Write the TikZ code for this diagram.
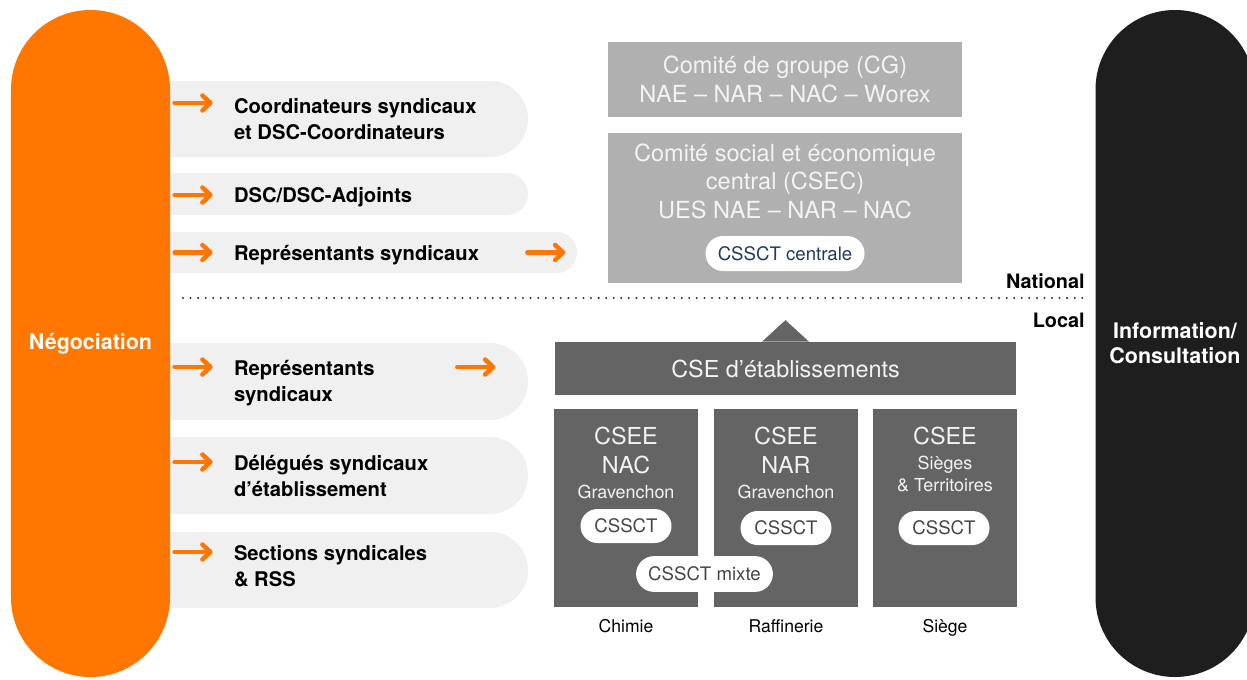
\documentclass[tikz,border=0pt]{standalone}
\usepackage{fontspec}
\setmainfont{TeX Gyre Heros}
\usetikzlibrary{shapes,arrows,positioning,calc,arrows.meta}
\definecolor{negorange}{RGB}{255,118,0}
\definecolor{rowgray}{RGB}{240,240,240}
\definecolor{natgray}{RGB}{176,176,176}
\definecolor{locgray}{RGB}{100,100,100}
\definecolor{infoblack}{RGB}{30,30,30}
\definecolor{boxtext}{RGB}{243,243,243}
\definecolor{pilltext}{RGB}{70,70,70}
\definecolor{navy}{RGB}{31,58,95}

\begin{document}
\begin{tikzpicture}[x=0.2mm, y=-0.2mm,
    pillar/.style={rectangle, rounded corners=15.9mm, minimum width=31.8mm, minimum height=133.4mm, inner sep=0pt, text=white, align=center, font=\fontsize{12.2}{14.2}\selectfont\bfseries},
    band/.style={rounded rectangle, rounded rectangle left arc=none, fill=rowgray, inner sep=0pt},
    bandtext/.style={anchor=west, inner sep=0pt, align=left, font=\fontsize{11.5}{14.8}\selectfont\bfseries},
    bullet/.style={-{Straight Barb[length=4.5pt, width=8.5pt, round]}, line width=2.6pt, negorange, line cap=round},
    natbox/.style={rectangle, fill=natgray, minimum width=70.8mm, inner sep=0pt, text=boxtext, align=center, font=\fontsize{13.4}{16.2}\selectfont},
    locbox/.style={rectangle, fill=locgray, inner sep=0pt},
    loctitle/.style={inner sep=0pt, text=boxtext, align=center, font=\fontsize{13.3}{16.5}\selectfont},
    locsub/.style={inner sep=0pt, text=boxtext, align=center, font=\fontsize{10.2}{12.5}\selectfont},
    cssct/.style={rounded rectangle, fill=white, minimum width=18.2mm, minimum height=6.8mm, inner sep=0pt, text=pilltext, font=\fontsize{10.6}{12}\selectfont},
    site/.style={anchor=base, inner sep=0pt, font=\fontsize{10}{12}\selectfont},
    level/.style={anchor=east, inner sep=0pt, font=\fontsize{11.3}{13}\selectfont\bfseries},
    divider/.style={navy, line width=1.3pt, dash pattern=on 0pt off 4.3pt, line cap=round}
]
\clip (0,0) rectangle (1247,679);
\fill[white] (0,0) rectangle (1247,679);

% Bands of the bargaining side
\node[band, minimum width=75.6mm, minimum height=15.2mm] (r1) at (339,119) {};
\node[band, minimum width=75.6mm, minimum height=8.4mm] (r2) at (339,194) {};
\node[band, minimum width=85.4mm, minimum height=8.2mm] (r3) at (363.5,252.5) {};
\node[band, minimum width=75.6mm, minimum height=15.4mm] (r4) at (339,381.5) {};
\node[band, minimum width=75.6mm, minimum height=15.4mm] (r5) at (339,475.5) {};
\node[band, minimum width=75.6mm, minimum height=15.2mm] (r6) at (339,570) {};

\node[bandtext, right=16.8mm of r1.west] (t1) {Coordinateurs syndicaux\\et DSC-Coordinateurs};
\node[bandtext, right=16.8mm of r2.west, yshift=-0.7mm] (t2) {DSC/DSC-Adjoints};
\node[bandtext, right=16.8mm of r3.west, yshift=-0.6mm] (t3) {Représentants syndicaux};
\node[bandtext, right=16.8mm of r4.west, yshift=-0.3mm] (t4) {Représentants\\syndicaux};
\node[bandtext, right=16.8mm of r5.west] (t5) {Délégués syndicaux\\d’établissement};
\node[bandtext, right=16.8mm of r6.west, yshift=0.7mm] (t6) {Sections syndicales\\\& RSS};

% Orange arrows (first text line)
\foreach \i/\dy in {1/3.2, 2/-0.2, 3/0, 4/2.9, 5/2.7, 6/3.6}
    \draw[bullet] ([xshift=5mm, yshift=\dy mm]r\i.west) -- ++(7.6mm,0);
\draw[bullet] ([xshift=-10mm]r3.east) -- ++(7.6mm,0);
\draw[bullet] ([xshift=-14.2mm, yshift=2.9mm]r4.east) -- ++(7.6mm,0);

% Side pillars
\node[pillar, fill=negorange] (neg) at (90.5,343.5) {Négociation};
\node[pillar, fill=infoblack] (info) at (1175,343.5) {Information/\\Consultation};

% National level
\node[natbox, minimum height=15mm] (cg) at (785,79.5) {Comité de groupe (CG)\\NAE – NAR – NAC – Worex};
\node[natbox, minimum height=30mm] (csec) at (785,208) {};
\node[natbox, fill=none] (csectxt) at (785,181) {Comité social et économique\\central (CSEC)\\UES NAE – NAR – NAC};
\node[cssct, minimum width=31.8mm, minimum height=7mm, text=navy] (centrale) at (785,253.5) {CSSCT centrale};

% National / Local split
\coordinate (dl) at (183,298);
\coordinate (dr) at (1085,298);
\draw[divider] (dl) -- (dr);
\node[level] (nat) at (1085,281) {National};
\node[level] (loc) at (1085,320) {Local};

% Local level
\node[locbox, minimum width=92.2mm, minimum height=10.6mm, text=boxtext, font=\fontsize{13.3}{16}\selectfont] (cse) at (785.5,368.5) {CSE d’établissements};
\fill[locgray] ([xshift=-4.7mm]cse.north) -- ++(4.7mm,4.3mm) -- ++(4.7mm,-4.3mm) -- cycle;

\node[locbox, minimum width=28.8mm, minimum height=39.6mm] (chim) at (626,508) {};
\node[locbox, minimum width=28.8mm, minimum height=39.6mm] (raff) at (786,508) {};
\node[locbox, minimum width=28.8mm, minimum height=39.6mm] (sieg) at (945,508) {};

\node[loctitle] (chimt) at (626,450.5) {CSEE\\NAC};
\node[locsub] (chims) at (626,492) {Gravenchon};
\node[loctitle] (rafft) at (786,450.5) {CSEE\\NAR};
\node[locsub] (raffs) at (786,492) {Gravenchon};
\node[loctitle] (siegt) at (945,436) {CSEE};
\node[locsub] (siegs) at (945,474) {Sièges\\\& Territoires};

\node[cssct] (p1) at (626,526) {CSSCT};
\node[cssct] (p2) at (786,528) {CSSCT};
\node[cssct] (p3) at (944,528) {CSSCT};
\node[cssct, minimum width=27mm, draw=white, line width=1pt] (mixte) at (704.5,574) {CSSCT mixte};

\node[site] (s1) at (626,632) {Chimie};
\node[site] (s2) at (786,632) {Raffinerie};
\node[site] (s3) at (945,632) {Siège};

\end{tikzpicture}
\end{document}
